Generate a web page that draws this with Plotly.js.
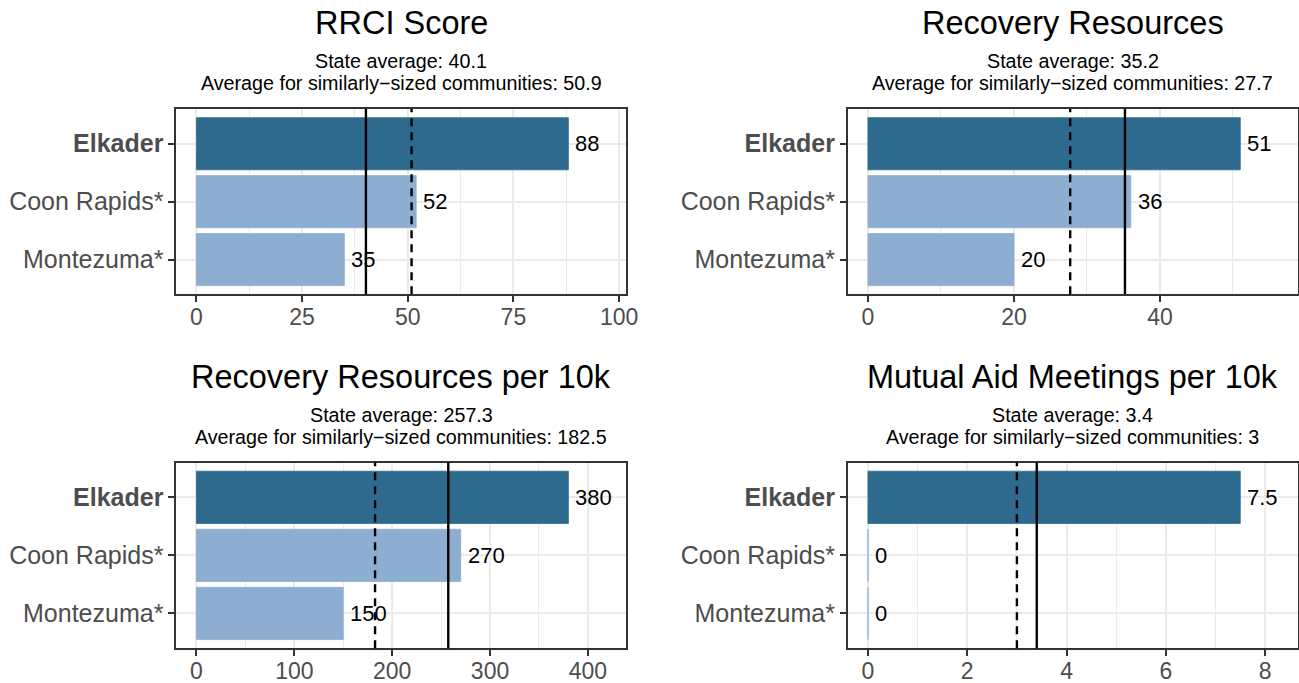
<!DOCTYPE html>
<html>
<head>
<meta charset="utf-8">
<script src="https://cdn.plot.ly/plotly-3.0.1.min.js"></script>
<style>
  html, body { margin: 0; padding: 0; background: #ffffff; }
  #chart { width: 1299px; height: 683px; }
</style>
</head>
<body>
<div id="chart"></div>
<script>
// ---------------- data ----------------
const categories = ['Elkader', 'Coon Rapids*', 'Montezuma*'];
const panelTitles = ['RRCI Score', 'Recovery Resources', 'Recovery Resources per 10k', 'Mutual Aid Meetings per 10k'];
const rrciScore = [88, 52, 35];
const recoveryResources = [51, 36, 20];
const recoveryResourcesPer10k = [380, 270, 150];
const mutualAidMeetingsPer10k = [7.5, 0, 0];
const stateAverages = [40.1, 35.2, 257.3, 3.4];
const similarSizedAverages = [50.9, 27.7, 182.5, 3];
const xTicks1 = [0, 25, 50, 75, 100];
const xTicks2 = [0, 20, 40];
const xTicks3 = [0, 100, 200, 300, 400];
const xTicks4 = [0, 2, 4, 6, 8];

// ---------------- styling / layout ----------------
const W = 1299, H = 683;
const FONT = '"Liberation Sans", Arial, Helvetica, sans-serif';
const darkBar = '#2E6A8E';
const lightBar = '#8DAED0';
const textGray = '#4D4D4D';
const borderCol = '#333333';
const gridCol = '#EBEBEB';

const panelValues = [rrciScore, recoveryResources, recoveryResourcesPer10k, mutualAidMeetingsPer10k];
const panelTicks = [xTicks1, xTicks2, xTicks3, xTicks4];

// pixel boxes of the four plotting panels
const boxes = [
  {x0: 176, x1: 626, y0: 109, y1: 294.3},
  {x0: 847.5, x1: 1298, y0: 109, y1: 294.3},
  {x0: 176, x1: 626, y0: 462.5, y1: 648.3},
  {x0: 847.5, x1: 1298, y0: 462.5, y1: 648.3}
];

const traces = [];
const layout = {
  width: W, height: H,
  margin: {l: 0, r: 0, t: 0, b: 0},
  paper_bgcolor: '#ffffff',
  plot_bgcolor: '#ffffff',
  showlegend: false,
  font: {family: FONT, color: '#000000'},
  shapes: [],
  annotations: [],
  hovermode: false
};

const barColors = categories.map((c, k) => k === 0 ? darkBar : lightBar);
const yTickText = categories.map((c, k) => k === 0 ? '<b>' + c + '</b>' : c);

for (let i = 0; i < 4; i++) {
  const vals = panelValues[i];
  const ticks = panelTicks[i];
  const suffix = i === 0 ? '' : String(i + 1);
  const xa = 'x' + suffix, ya = 'y' + suffix;
  const b = boxes[i];
  const L = 1.1 * Math.max(...vals);
  const range = [-0.05 * L, 1.05 * L];
  const minorStep = (ticks[1] - ticks[0]) / 2;

  traces.push({
    type: 'bar',
    orientation: 'h',
    x: vals,
    y: categories,
    width: 0.9,
    xaxis: xa, yaxis: ya,
    marker: {color: barColors, line: {color: barColors, width: 0.8}},
    hoverinfo: 'skip'
  });

  layout['xaxis' + suffix] = {
    domain: [b.x0 / W, b.x1 / W],
    anchor: ya,
    range: range,
    tickmode: 'array',
    tickvals: ticks,
    ticktext: ticks.map(String),
    ticks: 'outside', ticklen: 6, tickwidth: 2, tickcolor: borderCol,
    ticklabelstandoff: -5,
    tickfont: {family: FONT, size: 23, color: textGray},
    showgrid: true, gridcolor: gridCol, gridwidth: 2,
    minor: {tick0: 0, dtick: minorStep, showgrid: true, gridcolor: gridCol, gridwidth: 1, ticks: ''},
    zeroline: false,
    showline: true, mirror: true, linecolor: borderCol, linewidth: 1.6,
    fixedrange: true
  };
  layout['yaxis' + suffix] = {
    domain: [1 - b.y1 / H, 1 - b.y0 / H],
    anchor: xa,
    type: 'category',
    categoryorder: 'array',
    categoryarray: categories,
    range: [2.6, -0.6],
    tickmode: 'array',
    tickvals: categories,
    ticktext: yTickText,
    ticks: 'outside', ticklen: 6, tickwidth: 2, tickcolor: borderCol,
    tickfont: {family: FONT, size: 25, color: textGray},
    showgrid: true, gridcolor: gridCol, gridwidth: 2,
    zeroline: false,
    showline: true, mirror: true, linecolor: borderCol, linewidth: 1.6,
    fixedrange: true
  };

  // reference lines
  layout.shapes.push({
    type: 'line', xref: xa, yref: ya + ' domain',
    x0: stateAverages[i], x1: stateAverages[i], y0: 0, y1: 1,
    line: {color: '#000000', width: 2.4}, layer: 'above'
  });
  layout.shapes.push({
    type: 'line', xref: xa, yref: ya + ' domain',
    x0: similarSizedAverages[i], x1: similarSizedAverages[i], y0: 0, y1: 1,
    line: {color: '#000000', width: 2.4, dash: '8px,6px'}, layer: 'above'
  });

  // value labels
  vals.forEach((v, k) => {
    layout.annotations.push({
      xref: xa, yref: ya, x: v, y: categories[k],
      text: String(v), showarrow: false,
      xanchor: 'left', yanchor: 'middle', xshift: 5,
      font: {family: FONT, size: 22, color: '#000000'}
    });
  });

  // titles and subtitles
  const cx = ((b.x0 + b.x1) / 2) / W;
  const titleY = b.y0 - 86;
  layout.annotations.push({
    xref: 'paper', yref: 'paper', x: cx, y: 1 - titleY / H,
    text: panelTitles[i], showarrow: false,
    xanchor: 'center', yanchor: 'middle',
    font: {family: FONT, size: 32.5, color: '#000000'}
  });
  layout.annotations.push({
    xref: 'paper', yref: 'paper', x: cx, y: 1 - (b.y0 - 47.5) / H,
    text: 'State average: ' + stateAverages[i], showarrow: false,
    xanchor: 'center', yanchor: 'middle',
    font: {family: FONT, size: 19.7, color: '#000000'}
  });
  layout.annotations.push({
    xref: 'paper', yref: 'paper', x: cx, y: 1 - (b.y0 - 25.8) / H,
    text: 'Average for similarly\u2212sized communities: ' + similarSizedAverages[i], showarrow: false,
    xanchor: 'center', yanchor: 'middle',
    font: {family: FONT, size: 19.7, color: '#000000'}
  });
}

Plotly.newPlot('chart', traces, layout, {displayModeBar: false, staticPlot: true});
</script>
</body>
</html>
